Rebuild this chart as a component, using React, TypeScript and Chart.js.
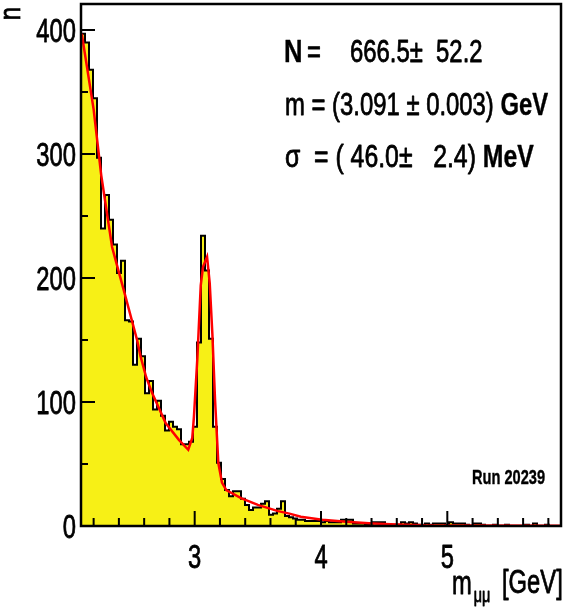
import React, { useEffect, useRef } from "react";
import { Chart, registerables } from "chart.js";

Chart.register(...registerables);

// ---- data ----
const X_MIN = 2.1; // GeV
const X_MAX = 5.9; // GeV
const Y_MAX = 421;

// 120 bins between X_MIN and X_MAX
const binCounts = [
  397, 390, 368, 345, 297, 240, 267, 247, 227, 204,
  214, 166, 165, 130, 151, 137, 107, 117, 94, 101,
  89, 77, 84, 80, 78, 66, 66, 68, 80, 148,
  234, 206, 151, 80, 51, 38, 29, 24, 28, 28,
  22, 17, 13, 15, 15, 18, 20, 9, 10, 14,
  20, 8, 7, 6, 5, 5, 4, 4, 4, 4,
  3, 4, 3, 3, 3, 5, 5, 5, 2, 2,
  2, 1, 2, 3, 3, 3, 1, 1, 1, 1,
  3, 2, 3, 2, 1, 1, 2, 1, 2, 2,
  2, 1, 3, 2, 2, 2, 1, 0, 2, 2,
  1, 0, 0, 1, 0, 0, 1, 0, 0, 0,
  0, 1, 0, 2, 0, 0, 1, 0, 0, 0,
];

// fitted curve (mass in GeV, counts)
const fitMass = [
  2.106, 2.2, 2.26, 2.346, 2.383, 2.439, 2.544, 2.571, 2.616, 2.664,
  2.77, 2.875, 2.949, 2.981, 2.994, 3.021, 3.048, 3.066, 3.098, 3.119,
  3.14, 3.161, 3.187, 3.216, 3.25, 3.367, 3.5, 3.66, 3.75, 3.84,
  4.01, 4.2, 4.41, 4.6, 4.81, 5.2, 5.9,
];
const fitCounts = [
  397, 336, 283, 225, 211, 190, 150, 137, 120, 107,
  83, 69.5, 61.5, 71, 88, 135, 194, 209, 217, 196,
  155, 102, 51, 35, 29, 22.5, 17, 12, 10, 7.5,
  5, 3.5, 2.1, 1.2, 0.6, 0.4, 0.3,
];

const yMajorTicks = [0, 100, 200, 300, 400];
const yMinorTicks = [50, 150, 250, 350];
const xMajorTicks = [3, 4, 5];
const xMinorTicks = [2.2, 2.4, 2.6, 2.8, 3.2, 3.4, 3.6, 3.8, 4.2, 4.4, 4.6, 4.8, 5.2, 5.4, 5.6, 5.8];

const fitResultN = "666.5±  52.2";
const fitResultMass = "m = (3.091 ± 0.003) ";
const fitResultSigma = "σ  = ( 46.0±   2.4) ";
const runLabel = "Run 20239";

const FONT = '"Liberation Sans", Arial, Helvetica, sans-serif';
const NARROW = 0.72;

function txt(
  ctx: CanvasRenderingContext2D,
  s: string,
  x: number,
  y: number,
  size: number,
  bold: boolean,
  sx: number,
  align: CanvasTextAlign = "left"
): number {
  ctx.save();
  ctx.translate(x, y);
  ctx.scale(sx, 1);
  ctx.font = `${bold ? "bold " : ""}${size}px ${FONT}`;
  ctx.textAlign = align;
  ctx.textBaseline = "alphabetic";
  ctx.fillStyle = "#000";
  ctx.strokeStyle = "#000";
  ctx.lineWidth = bold ? 0.4 : 0.8;
  ctx.lineJoin = "round";
  ctx.fillText(s, 0, 0);
  ctx.strokeText(s, 0, 0);
  const w = ctx.measureText(s).width * sx;
  ctx.restore();
  return w;
}

const rootStyle = {
  id: "rootStyle",
  afterDatasetsDraw(chart: any) {
    const { ctx, chartArea: a, scales } = chart;
    const xs = scales.x;
    const ys = scales.y;
    ctx.save();
    ctx.strokeStyle = "#000";
    ctx.lineCap = "butt";
    // ticks
    ctx.lineWidth = 2;
    ctx.beginPath();
    yMajorTicks.forEach((v) => {
      const py = ys.getPixelForValue(v);
      ctx.moveTo(a.left, py);
      ctx.lineTo(a.left + 14, py);
    });
    yMinorTicks.forEach((v) => {
      const py = ys.getPixelForValue(v);
      ctx.moveTo(a.left, py);
      ctx.lineTo(a.left + 7, py);
    });
    xMajorTicks.forEach((v) => {
      const px = xs.getPixelForValue(v);
      ctx.moveTo(px, a.bottom);
      ctx.lineTo(px, a.bottom - 15);
    });
    xMinorTicks.forEach((v) => {
      const px = xs.getPixelForValue(v);
      ctx.moveTo(px, a.bottom);
      ctx.lineTo(px, a.bottom - 8);
    });
    ctx.stroke();
    // frame
    ctx.lineWidth = 2.5;
    ctx.strokeRect(a.left, a.top, a.right - a.left, a.bottom - a.top);

    // tick labels
    yMajorTicks.forEach((v) => {
      const py = ys.getPixelForValue(v);
      txt(ctx, String(v), a.left - 5, py + 12, 33, false, NARROW, "right");
    });
    xMajorTicks.forEach((v) => {
      const px = xs.getPixelForValue(v);
      txt(ctx, String(v), px, a.bottom + 42, 33, false, NARROW, "center");
    });

    // axis titles
    let x = 452;
    x += txt(ctx, "m", x, 594, 33, false, NARROW);
    txt(ctx, "μμ", x + 2, 602, 20, false, NARROW);
    txt(ctx, "[GeV]", 502, 593, 33, false, NARROW);

    ctx.save();
    ctx.translate(20, 7);
    ctx.rotate(-Math.PI / 2);
    ctx.scale(0.8, 1);
    ctx.font = `30px ${FONT}`;
    ctx.textAlign = "right";
    ctx.fillStyle = "#000";
    ctx.strokeStyle = "#000";
    ctx.lineWidth = 0.8;
    ctx.fillText("n", 0, 0);
    ctx.strokeText("n", 0, 0);
    ctx.restore();

    // fit results
    txt(ctx, "N", 284, 62, 32, true, 0.8);
    txt(ctx, "=", 307, 62, 31, false, 0.77);
    txt(ctx, fitResultN, 350, 62, 31, false, 0.77);
    let x2 = 285;
    x2 += txt(ctx, fitResultMass, x2, 115, 31, false, 0.77);
    txt(ctx, "GeV", x2, 115, 31, true, 0.77);
    let x3 = 285;
    x3 += txt(ctx, fitResultSigma, x3, 167, 31, false, 0.8);
    txt(ctx, "MeV", x3, 167, 31, true, 0.8);

    txt(ctx, runLabel, 472, 484, 20, true, 0.73);
    ctx.restore();
  },
};

export default function App() {
  const ref = useRef<HTMLCanvasElement | null>(null);
  useEffect(() => {
    document.body.style.margin = "0";
    const canvas = ref.current;
    if (!canvas) return;
    const nb = binCounts.length;
    const w = (X_MAX - X_MIN) / nb;
    const histData = binCounts.map((v, i) => ({ x: X_MIN + i * w, y: v }));
    histData.push({ x: X_MAX, y: binCounts[nb - 1] });
    const fitData = fitMass.map((m, i) => ({ x: m, y: fitCounts[i] }));

    const chart = new Chart(canvas, {
      type: "line",
      data: {
        datasets: [
          {
            label: "fit",
            data: fitData,
            borderColor: "#ff0000",
            borderWidth: 2.5,
            pointRadius: 0,
            tension: 0,
            fill: false,
            order: 0,
          },
          {
            label: "hist",
            data: histData,
            stepped: "before",
            borderColor: "#000000",
            borderWidth: 2,
            backgroundColor: "rgb(247,240,22)",
            pointRadius: 0,
            fill: "origin",
            order: 1,
          },
        ],
      } as any,
      options: {
        animation: false,
        responsive: false,
        events: [],
        layout: { padding: { top: 4, right: 2, left: 0, bottom: 0 } },
        plugins: { legend: { display: false }, tooltip: { enabled: false } },
        scales: {
          x: {
            type: "linear",
            min: X_MIN,
            max: X_MAX,
            grid: { display: false },
            border: { display: false },
            ticks: { display: false },
            afterFit: (s: any) => {
              s.height = 83;
            },
          },
          y: {
            type: "linear",
            min: 0,
            max: Y_MAX,
            grid: { display: false },
            border: { display: false },
            ticks: { display: false },
            afterFit: (s: any) => {
              s.width = 81;
            },
          },
        },
      } as any,
      plugins: [rootStyle],
    });
    return () => chart.destroy();
  }, []);
  return <canvas ref={ref} width={563} height={609} style={{ display: "block", width: 563, height: 609 }} />;
}
